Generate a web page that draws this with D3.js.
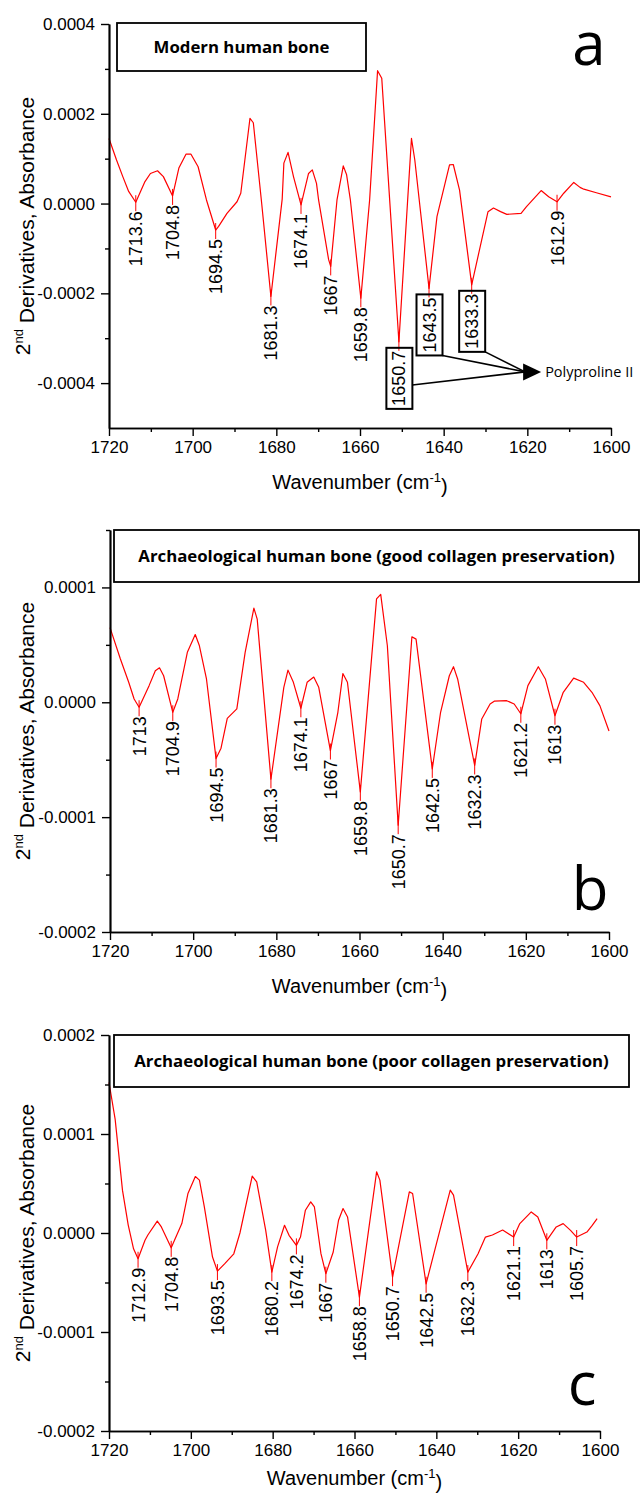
<!DOCTYPE html>
<html><head><meta charset="utf-8">
<script src="https://cdn.jsdelivr.net/npm/d3@7"></script>
<style>
body{margin:0;background:#fff;}
svg text{font-family:"Liberation Sans",Arial,sans-serif;}
</style></head><body>
<svg id="chart" width="641" height="1493"></svg>
<script>
// ---------- tick values ----------
const xTicks = [1720,1700,1680,1660,1640,1620,1600];
const xMinorTicks = [1710,1690,1670,1650,1630,1610];
const yTicksA = [-0.0004,-0.0002,0,0.0002,0.0004];
const yMinorA = [-0.0003,-0.0001,0.0001,0.0003];
const yTicksB = [-0.0002,-0.0001,0,0.0001];
const yMinorB = [-0.00015,-0.00005,0.00005,0.00015];
const yTicksC = [-0.0002,-0.0001,0,0.0001,0.0002];
const yMinorC = [-0.00015,-0.00005,0.00005,0.00015];

// ---------- panel a: modern human bone ----------
const wnA = [1720,1718.2,1716.7,1715.3,1713.6,1711.4,1710.1,1708.4,1707,1704.8,1703.3,1701.6,1700.4,1698.7,1696.7,1694.5,1693.8,1691.8,1689.4,1688.5,1686.3,1685.5,1683.5,1681.3,1678.6,1678.2,1677.2,1675.9,1674.1,1672.3,1671.4,1670.4,1669.9,1667.5,1667,1665.5,1664,1663.2,1662.3,1659.8,1657.7,1655.8,1654.8,1650.7,1647.7,1646.9,1643.5,1641.6,1638.6,1637.7,1636.2,1633.3,1629.4,1628.1,1626.4,1624.9,1621.5,1620.2,1616.7,1614.9,1612.9,1611.3,1608.9,1607.4,1606.5,1603.5,1600];
const valA = [1.45e-4,0.97e-4,0.60e-4,0.27e-4,0.03e-4,0.49e-4,0.67e-4,0.73e-4,0.60e-4,0.17e-4,0.79e-4,1.10e-4,1.10e-4,0.82e-4,0.08e-4,-0.59e-4,-0.51e-4,-0.22e-4,0.04e-4,0.23e-4,1.90e-4,1.80e-4,0.00e-4,-2.07e-4,0.10e-4,0.90e-4,1.14e-4,0.60e-4,-0.03e-4,0.67e-4,0.75e-4,0.45e-4,0.08e-4,-1.25e-4,-1.40e-4,0.08e-4,0.84e-4,0.64e-4,0.08e-4,-2.11e-4,0.08e-4,2.96e-4,2.79e-4,-3.08e-4,1.45e-4,0.97e-4,-1.89e-4,-0.29e-4,0.86e-4,0.87e-4,0.30e-4,-1.81e-4,-0.18e-4,-0.10e-4,-0.18e-4,-0.24e-4,-0.22e-4,-0.07e-4,0.29e-4,0.15e-4,0.04e-4,0.23e-4,0.47e-4,0.36e-4,0.32e-4,0.24e-4,0.15e-4];
const peaksA = [1713.6,1704.8,1694.5,1681.3,1674.1,1667,1659.8,1650.7,1643.5,1633.3,1612.9];
const boxedA = [1650.7,1643.5,1633.3];
const arrowTipA = [1616.7,-0.000375];

// ---------- panel b: good collagen preservation ----------
const wnB = [1720,1717.5,1715.5,1714.2,1713,1710.6,1709.1,1708.1,1707.1,1704.9,1703.7,1701.4,1699.5,1698.5,1696.8,1694.5,1693.3,1691.8,1689.5,1687.5,1685.4,1684.6,1681.3,1678.2,1677.2,1675.9,1674.1,1672.6,1671,1669.8,1667,1665.2,1664,1662.9,1659.8,1655.9,1654.9,1653.3,1650.7,1647.4,1646.4,1642.5,1640.5,1638.4,1637.4,1636.4,1632.3,1630.6,1628.6,1627.6,1624.6,1622.8,1621.2,1619.5,1617,1615.3,1613,1611,1608.5,1606.1,1604.1,1602.2,1600];
const valB = [6.5e-5,3.77e-5,1.74e-5,0.29e-5,-0.43e-5,1.45e-5,2.75e-5,3.0e-5,2.31e-5,-0.87e-5,0.29e-5,4.35e-5,5.9e-5,4.92e-5,2.03e-5,-4.9e-5,-4.0e-5,-1.4e-5,-0.58e-5,4.35e-5,8.2e-5,7.24e-5,-6.7e-5,1.3e-5,2.8e-5,1.74e-5,-0.52e-5,1.74e-5,2.2e-5,1.3e-5,-4.2e-5,-0.87e-5,2.5e-5,1.74e-5,-7.8e-5,9.0e-5,9.4e-5,4.92e-5,-10.7e-5,5.7e-5,5.5e-5,-5.8e-5,-0.87e-5,2.31e-5,3.1e-5,2.03e-5,-5.5e-5,-1.45e-5,-0.15e-5,0.1e-5,0.14e-5,-0.15e-5,-1.0e-5,1.45e-5,3.1e-5,2.03e-5,-1.17e-5,0.87e-5,2.1e-5,1.74e-5,0.87e-5,-0.29e-5,-2.5e-5];
const peaksB = [1713,1704.9,1694.5,1681.3,1674.1,1667,1659.8,1650.7,1642.5,1632.3,1621.2,1613];

// ---------- panel c: poor collagen preservation ----------
const wnC = [1720,1718.5,1716.7,1715.3,1714,1712.9,1711.2,1710.5,1708.2,1707.2,1704.8,1702.2,1700.7,1698.9,1697.9,1696.7,1694.7,1693.5,1691.7,1689.5,1688,1685,1683.9,1681.7,1680.2,1678.8,1677.1,1676,1674.2,1673.2,1672,1670.7,1669.8,1668.2,1667,1665.2,1663.9,1662.8,1661.7,1658.8,1654.6,1653.8,1650.7,1646.6,1645.8,1642.5,1636.6,1635.8,1632.3,1629.8,1628,1626.3,1623.8,1621.1,1619.6,1616.8,1615.2,1613,1610.7,1609,1607.2,1605.7,1603.2,1601.9,1600.7];
const valC = [15.2e-5,11.5e-5,4.3e-5,0.8e-5,-1.6e-5,-2.6e-5,-0.74e-5,-0.2e-5,1.2e-5,0.61e-5,-1.5e-5,0.95e-5,4.0e-5,5.7e-5,5.34e-5,2.63e-5,-2.43e-5,-3.85e-5,-3.1e-5,-2.1e-5,0.0e-5,5.74e-5,5.17e-5,0.27e-5,-3.95e-5,-1.4e-5,0.78e-5,-0.23e-5,-1.25e-5,-0.41e-5,2.3e-5,3.14e-5,2.63e-5,-2.09e-5,-4.11e-5,-1.92e-5,1.29e-5,2.47e-5,1.62e-5,-6.48e-5,6.18e-5,5.34e-5,-4.46e-5,4.15e-5,3.99e-5,-5.13e-5,4.33e-5,3.82e-5,-3.95e-5,-2.1e-5,-0.41e-5,-0.2e-5,0.3e-5,-0.41e-5,0.95e-5,2.13e-5,1.62e-5,-0.74e-5,0.61e-5,0.95e-5,0.27e-5,-0.41e-5,0.1e-5,0.78e-5,1.46e-5];
const peaksC = [1712.9,1704.8,1693.5,1680.2,1674.2,1667,1658.8,1650.7,1642.5,1632.3,1621.1,1613,1605.7];

const titles = ["Modern human bone","Archaeological human bone (good collagen preservation)","Archaeological human bone (poor collagen preservation)"];
const letters = ["a","b","c"];

// ---------- drawing ----------
const svg = d3.select('#chart');
const fmtY = v => (Math.abs(v) < 1e-12 ? 0 : v).toFixed(4);

function interp(wn, vals, w){
  for(let i=0;i<wn.length-1;i++){
    const a=wn[i], b=wn[i+1];
    if((w<=a && w>=b)){ const t=(a-w)/(a-b); return vals[i]+(vals[i+1]-vals[i])*t; }
  }
  return vals[vals.length-1];
}

function drawPanel(o){
  const x = d3.scaleLinear().domain([1720,1600]).range([o.left,o.right]);
  const y = d3.scaleLinear().domain(o.yDomain).range([o.bottom,o.top]);
  const g = svg.append('g');

  // title box
  g.append('rect').attr('x',o.box[0]).attr('y',o.box[1]).attr('width',o.box[2]-o.box[0]).attr('height',o.box[3]-o.box[1])
    .attr('fill','#fff').attr('stroke','#000').attr('stroke-width',1.8);
  g.append('text').attr('x',(o.box[0]+o.box[2])/2).attr('y',(o.box[1]+o.box[3])/2).attr('dy','0.36em')
    .attr('text-anchor','middle').style('font-family','"Open Sans",sans-serif').style('font-weight',700).style('font-size','16.8px')
    .text(o.title);

  // curve
  const line = d3.line().x(d=>x(d[0])).y(d=>y(d[1])).curve(d3.curveLinear);
  g.append('path').datum(o.wn.map((w,i)=>[w,o.vals[i]])).attr('d',line)
    .attr('fill','none').attr('stroke','#ff0000').attr('stroke-width',1.2).attr('stroke-linejoin','round');

  // axes
  const styleAxis = sel => {
    sel.selectAll('.domain').attr('stroke','#000').attr('stroke-width',1.7);
    sel.selectAll('.tick line').attr('stroke','#000').attr('stroke-width',1.4);
    sel.selectAll('text').style('font-family','"Liberation Sans",Arial,sans-serif').style('font-size','17px').attr('fill','#000');
  };
  g.append('g').attr('transform',`translate(0,${o.bottom})`)
    .call(d3.axisBottom(x).tickValues(xMinorTicks).tickSize(4).tickSizeOuter(0).tickFormat('')).call(styleAxis);
  g.append('g').attr('transform',`translate(0,${o.bottom})`)
    .call(d3.axisBottom(x).tickValues(xTicks).tickSize(8).tickSizeOuter(0).tickPadding(5).tickFormat(d3.format('d'))).call(styleAxis);
  g.append('g').attr('transform',`translate(${o.left},0)`)
    .call(d3.axisLeft(y).tickValues(o.yMinor).tickSize(4).tickSizeOuter(0).tickFormat('')).call(styleAxis);
  g.append('g').attr('transform',`translate(${o.left},0)`)
    .call(d3.axisLeft(y).tickValues(o.yTicks).tickSize(8).tickSizeOuter(0).tickPadding(6).tickFormat(fmtY)).call(styleAxis);

  // axis titles
  const xt = g.append('text').attr('x',(o.left+o.right)/2).attr('y',o.xTitleY).attr('text-anchor','middle')
    .style('font-size','20px');
  xt.append('tspan').text('Wavenumber (cm');
  xt.append('tspan').attr('dy','-0.55em').style('font-size','13px').text('-1');
  xt.append('tspan').attr('dy','0.55em').text(')');

  const cy = (o.top+o.bottom)/2;
  const yt = g.append('text').attr('transform',`translate(${o.yTitleX},${cy}) rotate(-90)`).attr('text-anchor','middle')
    .style('font-size','21px');
  yt.append('tspan').text('2');
  yt.append('tspan').attr('dy','-0.55em').style('font-size','13px').text('nd');
  yt.append('tspan').attr('dy','0.55em').text(' Derivatives, Absorbance');

  // peak labels
  const boxes = {};
  o.peaks.forEach(p=>{
    const px = x(p), py = y(interp(o.wn,o.vals,p));
    g.append('line').attr('x1',px).attr('x2',px).attr('y1',py-7).attr('y2',py+9)
      .attr('stroke','#ff0000').attr('stroke-width',1);
    const t = g.append('text').attr('transform',`translate(${px},${py+9}) rotate(-90)`)
      .attr('text-anchor','end').attr('dy','0.36em').style('font-size','18px').text(String(p));
    if(o.boxed && o.boxed.includes(p)){
      const bb = t.node().getBBox();
      const sx0 = px + bb.y, sx1 = px + bb.y + bb.height;
      const sy0 = py + 9 - (bb.x + bb.width), sy1 = py + 9 - bb.x;
      const pad = 3;
      const r = {x0:sx0-pad, x1:sx1+pad, y0:sy0-pad, y1:sy1+pad};
      boxes[p] = r;
      g.append('rect').attr('x',r.x0).attr('y',r.y0).attr('width',r.x1-r.x0).attr('height',r.y1-r.y0)
        .attr('fill','none').attr('stroke','#000').attr('stroke-width',2);
    }
  });

  if(o.boxed){
    const tx = x(o.arrowTip[0]), ty = y(o.arrowTip[1]);
    const baseX = tx - 18;
    o.boxed.forEach((p,i)=>{
      const r = boxes[p];
      const sx = r.x1, sy = i===0 ? r.y0 + 0.61*(r.y1-r.y0) : r.y1;
      g.append('line').attr('x1',sx).attr('y1',sy).attr('x2',baseX+2).attr('y2',ty)
        .attr('stroke','#000').attr('stroke-width',1.6);
    });
    g.append('path').attr('d',`M${tx},${ty} L${baseX},${ty-8.5} L${baseX},${ty+8.5} Z`).attr('fill','#000');
    g.append('text').attr('x',tx+4).attr('y',ty).attr('dy','0.35em')
      .style('font-family','"Open Sans",sans-serif').style('font-size','14.5px').text('Polyproline II');
  }

  // panel letter
  g.append('text').attr('x',o.letterPos[0]).attr('y',o.letterPos[1]).attr('text-anchor','middle')
    .style('font-family','"Open Sans",sans-serif').style('font-size','60px').text(o.letter);
}

drawPanel({left:109,right:611,top:24,bottom:428,yDomain:[-0.0005,0.0004],yTicks:yTicksA,yMinor:yMinorA,
  wn:wnA,vals:valA,peaks:peaksA,boxed:boxedA,arrowTip:arrowTipA,title:titles[0],letter:letters[0],
  box:[117,23,366,71],letterPos:[589,65],xTitleY:489,yTitleX:30});
drawPanel({left:110,right:609,top:530,bottom:932,yDomain:[-0.0002,0.00015],yTicks:yTicksB,yMinor:yMinorB,
  wn:wnB,vals:valB,peaks:peaksB,title:titles[1],letter:letters[1],
  box:[114,530,639,582],letterPos:[590,910],xTitleY:993,yTitleX:30});
drawPanel({left:109,right:600,top:1035,bottom:1431,yDomain:[-0.0002,0.0002],yTicks:yTicksC,yMinor:yMinorC,
  wn:wnC,vals:valC,peaks:peaksC,title:titles[2],letter:letters[2],
  box:[114,1035,629,1087],letterPos:[582,1405],xTitleY:1485,yTitleX:30});
</script>
</body></html>
